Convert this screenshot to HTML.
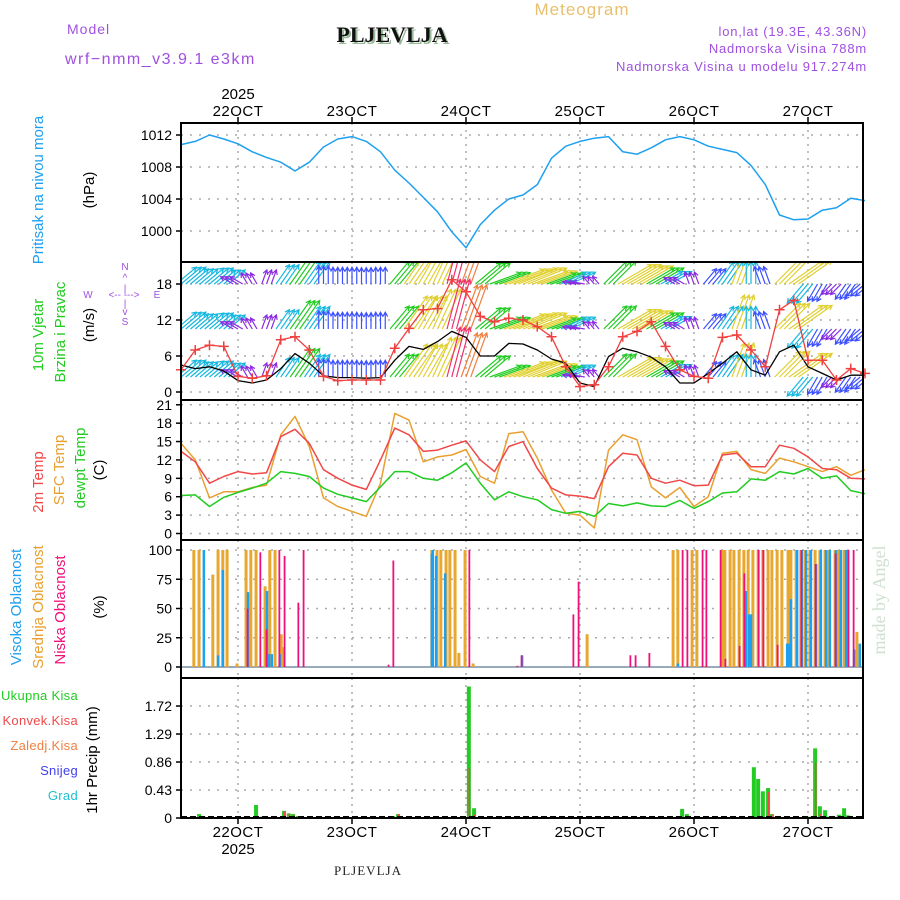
<!DOCTYPE html>
<html><head><meta charset="utf-8"><title>Meteogram PLJEVLJA</title>
<style>
html,body{margin:0;padding:0;background:#fff;}
svg{display:block;font-family:"Liberation Sans",sans-serif;}
</style></head>
<body>
<svg id="chart" width="900" height="900" viewBox="0 0 900 900" xmlns="http://www.w3.org/2000/svg">
<defs><clipPath id="windclip"><rect x="181" y="262" width="682" height="138"/></clipPath></defs>
<rect width="900" height="900" fill="#fff"/>
<text x="582" y="15" font-size="17" fill="#e8c070" text-anchor="middle" letter-spacing="1">Meteogram</text>
<text x="67" y="34" font-size="14" fill="#a050e0" letter-spacing="1">Model</text>
<text x="65" y="64" font-size="16" fill="#a050e0" letter-spacing="1.5">wrf−nmm_v3.9.1  e3km</text>
<text x="394" y="44" font-size="22" font-weight="bold" font-family="Liberation Serif,serif" fill="#9ab89a" text-anchor="middle">PLJEVLJA</text>
<text x="392" y="42" font-size="22" font-weight="bold" font-family="Liberation Serif,serif" fill="#111" text-anchor="middle">PLJEVLJA</text>
<text x="867" y="36" font-size="13" fill="#a050e0" text-anchor="end" letter-spacing="0.8">lon,lat (19.3E, 43.36N)</text>
<text x="867" y="53" font-size="13" fill="#a050e0" text-anchor="end" letter-spacing="0.8">Nadmorska Visina 788m</text>
<text x="867" y="71" font-size="13" fill="#a050e0" text-anchor="end" letter-spacing="0.8">Nadmorska Visina u modelu 917.274m</text>
<text transform="rotate(-90 885 600)" x="885" y="600" font-size="18" font-family="Liberation Serif,serif" fill="#d0e0d0" text-anchor="middle">made by Angel</text>
<text x="368" y="875" font-size="13" font-family="Liberation Serif,serif" fill="#222" text-anchor="middle" letter-spacing="1">PLJEVLJA</text>
<g id="grid"></g>
<g id="arrows" clip-path="url(#windclip)"></g>
<g id="marks"></g>
<g id="frames"></g>
<g id="labels"></g>
</svg>
<script>
// ---------- data ----------
const hours3 = [0,3,6,9,12,15,18,21,24,27,30,33,36,39,42,45,48,51,54,57,60,63,66,69,72,75,78,81,84,87,90,93,96,99,102,105,108,111,114,117,120,123,126,129,132,135,138,141,144];
const dayLabels = ["22OCT","23OCT","24OCT","25OCT","26OCT","27OCT"];
const dayHours = [12,36,60,84,108,132];
const pressure = [1010.8,1011.2,1012,1011.5,1010.9,1009.9,1009.2,1008.6,1007.5,1008.6,1010.5,1011.5,1011.8,1011.2,1009.9,1007.6,1006,1004.2,1002.4,999.9,997.9,1000.8,1002.6,1004,1004.5,1005.8,1009.1,1010.6,1011.2,1011.6,1011.8,1009.9,1009.6,1010.4,1011.4,1011.8,1011.4,1010.6,1010.2,1009.8,1008.2,1005.8,1002,1001.4,1001.5,1002.6,1002.9,1004.1,1003.8];
const presTicks = [1000,1004,1008,1012];
const windSpeed = [4.5,3.9,4.2,3.5,1.9,1.5,2,3.9,6.4,4.8,2.7,2.4,2.4,2.3,2.4,5.3,7.6,7.1,8.4,10.1,9.1,6,6,8.1,8,7,5.5,4.8,1.5,0.9,5.9,7.3,6.7,5.8,4.2,1.5,1.5,3.1,4.8,6.7,3.7,2.8,6.7,7.8,4.2,3.1,2,2.8,2.8];
const windGust = [3.7,7,7.8,7.6,2.6,2.3,2.7,8.7,9.2,7,2.6,1.9,2,2,2,7.3,10.6,13.7,13.9,18.7,16.7,12.6,11.7,12.3,12,10.9,9.2,4.2,0.9,1.2,4.2,9.2,10.1,11.7,7.6,3.7,2.6,2.3,9.1,9.5,7,4.2,13.7,15.3,5.3,5.3,2,3.9,3.1];
const windDir = [230,230,230,230,120,150,200,215,215,215,180,180,180,180,180,220,215,210,205,195,200,230,250,250,248,250,250,245,100,140,225,240,240,240,240,120,160,220,215,200,180,160,225,235,40,30,45,35,50];
const windTicks = [0,6,12,18];
const windRowLevels = [18,10.5,2.5];
const temp2m = [13.4,11.7,8.2,9.3,10.1,9.7,9.9,15.8,17,14.7,10.4,9,7.9,7.2,12,17.2,16.1,13.4,13.6,14.4,15.1,12,10.1,14.2,15,10.6,7.4,6.3,6.1,5.7,10.9,13.1,12.8,9,8.2,8.7,7.8,7.9,12.8,13.1,10.9,10.9,14.4,13.9,12.5,10.6,10.4,9,8.9];
const tempSfc = [14.7,12,5.8,6.8,6.8,7.5,7.9,16.1,19.1,14.2,5.8,4.4,3.6,2.8,8.2,19.6,18.5,11.7,12.5,12.8,13.7,9.3,8.2,16.3,16.6,12.3,7.1,3.3,3.0,0.9,13.6,16.1,15.3,7.6,5.8,7.5,4.4,6,13.1,13.4,10.4,9.8,12.3,11.7,10.9,10.1,10.9,9.5,10.4];
const tempDew = [6.2,6.3,4.4,5.9,6.7,7.4,8.2,10.1,9.8,9.3,7.4,6.4,5.8,5.2,7.6,10.1,10.1,9,8.7,9.9,11.5,8.2,5.5,6.8,6,5.5,3.9,3.3,3.6,2.8,4.9,4.5,5,4.5,4.4,5.4,4.1,5.2,6.6,6.8,8.9,8.7,10.1,9.7,10.6,9,9.4,7,6.5];
const tempTicks = [0,3,6,9,12,15,18,21];
const cloudMid = [[2.7,100],[3.8,100],[6.7,79],[7.8,100],[8.8,100],[9.7,100],[11.8,3],[13.7,100],[14.7,100],[15.8,100],[17.7,69],[18.7,100],[19.8,100],[21.1,28],[21.5,17],[52.8,100],[53.9,100],[54.7,100],[55.8,100],[56.6,100],[57.7,100],[58.5,12],[59.8,100],[61.5,3],[85.5,28],[103.6,100],[104.6,100],[107.6,100],[108.6,100],[110.5,1],[113.9,100],[114.5,100],[115.6,100],[116.4,100],[117.5,100],[118.5,100],[119.4,100],[120.4,100],[121.5,100],[122.5,100],[123.6,100],[124.4,100],[125.5,100],[126.5,100],[127.8,100],[128.4,100],[129.5,100],[130.5,100],[131.4,100],[132.4,100],[133.5,100],[134.5,100],[135.6,100],[136.4,100],[137.7,100],[138.5,100],[139.6,100],[140.4,100],[142.3,30]];
const cloudHigh = [[4.6,100],[7.6,10],[8.6,83],[13.9,64],[17.9,65],[18.3,11],[18.9,11],[20.6,11],[52.6,97],[52.8,100],[53.5,95],[55.4,80],[71.6,10],[104.4,3],[118.7,65],[119.4,45],[119.8,45],[127.4,20],[127.8,20],[128.2,58],[129.5,100],[130.5,100],[131.4,100],[132.4,100],[133.5,88],[134.5,100],[135.6,100],[136.4,100],[137.7,100],[138.7,100],[139.8,100],[141.5,15],[142.7,20]];
const cloudLow = [[13.9,50],[16.6,98],[17.9,32],[20.6,100],[21.7,95],[24.6,55],[25.7,100],[43.6,2],[44.6,91],[60.6,100],[70.7,1],[71.6,10],[82.5,45],[83.6,73],[94.5,10],[95.6,10],[98.5,12],[105.5,100],[106.5,100],[109.7,100],[110.5,100],[113.5,100],[114.5,7],[117.5,18],[118.5,80],[121.5,100],[122.5,100],[125.5,19],[130.5,100],[133.5,88],[137.7,97],[140.4,100],[141.5,100]];
const cloudTicks = [0,25,50,75,100];
const precipTotal = [[3.8,0.06],[4.8,0.02],[15.8,0.2],[16.6,0.02],[19.8,0.02],[21.7,0.11],[22.7,0.07],[23.6,0.06],[24.6,0.03],[44.6,0.03],[45.7,0.06],[60.6,2.02],[61.7,0.15],[104.6,0.03],[105.5,0.14],[106.5,0.06],[120.6,0.78],[121.5,0.6],[122.5,0.41],[123.6,0.46],[124.4,0.06],[132.4,0.02],[133.5,1.07],[134.5,0.18],[135.6,0.12],[136.4,0.02],[137.5,0.02],[138.5,0.05],[139.6,0.15],[140.4,0.04]];
const precipConv = [[21.7,0.1],[22.7,0.07],[23.6,0.05],[24.6,0.02],[44.6,0.02],[45.7,0.06],[60.6,0.77],[61.7,0.05],[123.6,0.4],[124.4,0.05],[133.5,0.85],[134.5,0.06]];
const precipTicks = [0,0.43,0.86,1.29,1.72];

// ---------- scales ----------
const X0 = 181, X1 = 863, PXH = 4.75;
const xOf = h => X0 + h * PXH;
const yPres = v => 135 + (1012 - v) * 8;
const yWind = v => 392 - v * 6;
const yTemp = v => 533.5 - v * 6.13;
const yCloud = v => 667 - v * 1.17;
const yPrec = v => 818 - v * 65.1;
const panels = [[123,262],[262,400],[400,540],[540,678],[678,818]];

const NS = "http://www.w3.org/2000/svg";
const gGrid = document.getElementById('grid');
const gArrows = document.getElementById('arrows');
const gMarks = document.getElementById('marks');
const gFrames = document.getElementById('frames');
const gLabels = document.getElementById('labels');
function mk(tag, attrs, parent) {
  const e = document.createElementNS(NS, tag);
  for (const k in attrs) e.setAttribute(k, attrs[k]);
  parent.appendChild(e);
  return e;
}

// ---------- grid ----------
panels.forEach((p, pi) => {
  dayHours.forEach(h => {
    const l = mk('line', {x1: xOf(h), x2: xOf(h), y1: p[0], y2: p[1], stroke: '#aaa', 'stroke-width': 1.5, 'stroke-dasharray': '2,5'}, gGrid);
    
    
  });
});
function hgrid(ticks, yf, fmt, name) {
  ticks.forEach(t => {
    const y = yf(t);
    const l = mk('line', {x1: X0, x2: X1, y1: y, y2: y, stroke: '#aaa', 'stroke-width': 1.5, 'stroke-dasharray': '2,7'}, gGrid);
    
    
    mk('line', {x1: X0 - 5, x2: X0, y1: y, y2: y, stroke: '#000', 'stroke-width': 1.5}, gFrames);
    const tx = mk('text', {x: 172, y: y + 5, 'font-size': 14, 'text-anchor': 'end', fill: '#000'}, gLabels);
    tx.textContent = fmt(t);
    
    
  });
}
hgrid(presTicks, yPres, t => t, 'pressure');
hgrid(windTicks, yWind, t => t, 'wind');
hgrid(tempTicks, yTemp, t => t, 'temp');
hgrid(cloudTicks, yCloud, t => t, 'cloud');
hgrid(precipTicks, yPrec, t => t === 0 ? '0' : t.toFixed(2), 'precip');

// ---------- lines ----------
function line(vals, yf, color, name, w) {
  const d = vals.map((v, i) => (i ? 'L' : 'M') + xOf(hours3[i]).toFixed(1) + ',' + yf(v).toFixed(1)).join(' ');
  const p = mk('path', {d: d, fill: 'none', stroke: color, 'stroke-width': w || 1.5, 'stroke-linejoin': 'round'}, gMarks);
  
  
}
line(pressure, yPres, '#1ea0f0', 'pressure-line');

// wind arrows (each 3-hourly record drawn as a small fan of hourly-spaced glyphs)
function windColor(s) {
  if (s < 2.1) return '#8a2be2';
  if (s < 3.5) return '#3c50ff';
  if (s < 5) return '#18b8e0';
  if (s < 6.5) return '#22cc22';
  if (s < 9) return '#e0d030';
  if (s < 10) return '#f08040';
  return '#f0306a';
}
const fanOffsets = [-1, 0, 1];
windRowLevels.forEach(lev => {
  const by = yWind(lev);
  windSpeed.forEach((s, i) => {
    const to = (windDir[i] + 180) * Math.PI / 180;
    const L = s * 4.5 + 6;
    const c = windColor(s);
    fanOffsets.forEach(o => {
      const x = xOf(hours3[i]) + o * PXH;
      const ex = x + L * Math.sin(to), ey = by - L * Math.cos(to);
      const a = Math.atan2(ey - by, ex - x);
      const h1x = ex - 5 * Math.cos(a - 0.5), h1y = ey - 5 * Math.sin(a - 0.5);
      const h2x = ex - 5 * Math.cos(a + 0.5), h2y = ey - 5 * Math.sin(a + 0.5);
      const g = mk('path', {d: `M${x},${by} L${ex},${ey} M${h1x},${h1y} L${ex},${ey} L${h2x},${h2y}`, stroke: c, 'stroke-width': 1.2, fill: 'none'}, gArrows);
      
      
    });
  });
});
line(windSpeed, yWind, '#000', 'wind-speed-line', 1.3);
line(windGust, yWind, '#f04040', 'wind-gust-line', 1.3);
windGust.forEach((v, i) => {
  const x = xOf(hours3[i]), y = yWind(v);
  const c = mk('path', {d: `M${x-5},${y} L${x+5},${y} M${x},${y-5} L${x},${y+5}`, stroke: '#f04040', 'stroke-width': 1.5}, gMarks);
  
  
});

// temperatures
line(tempSfc, yTemp, '#e8a030', 'sfc-temp-line');
line(temp2m, yTemp, '#f04848', 'temp-2m-line');
line(tempDew, yTemp, '#20cc20', 'dewpoint-line');

// clouds
mk('line', {x1: X0, x2: X1, y1: yCloud(0), y2: yCloud(0), stroke: '#9ab', 'stroke-width': 2}, gMarks);
function bars(data, yf, color, w, off, name) {
  data.forEach(d => {
    const x = xOf(d[0]) + off, y = yf(d[1]), y0 = yf(0);
    const r = mk('rect', {x: x - w / 2, y: y, width: w, height: Math.max(0, y0 - y), fill: color}, gMarks);
    
    
  });
}
bars(cloudMid, yCloud, '#e8a830', 3, 0, 'mid-cloud-bar');
bars(cloudHigh, yCloud, '#1ea0f0', 2.5, 1, 'high-cloud-bar');
bars(cloudLow, yCloud, '#f0107a', 1.8, 0.5, 'low-cloud-bar');

// precip
bars(precipTotal, yPrec, '#22cc22', 4, 0, 'total-precip-bar');
bars(precipConv, yPrec, '#f04848', 1.5, 0.5, 'convective-precip-bar');
mk('line', {x1: X0, x2: X1, y1: 817, y2: 817, stroke: '#000', 'stroke-width': 2, 'stroke-dasharray': '6,3'}, gMarks);

// ---------- frames ----------
panels.forEach((p, i) => {
  const r = mk('rect', {x: X0, y: p[0], width: X1 - X0, height: p[1] - p[0], fill: 'none', stroke: '#000', 'stroke-width': 2}, gFrames);
  
  
});
dayHours.forEach((h, i) => {
  const x = xOf(h);
  mk('line', {x1: x, x2: x, y1: 117, y2: 123, stroke: '#000', 'stroke-width': 1.5}, gFrames);
  mk('line', {x1: x, x2: x, y1: 818, y2: 824, stroke: '#000', 'stroke-width': 1.5}, gFrames);
  const t1 = mk('text', {x: x, y: 116, 'font-size': 15, 'text-anchor': 'middle', fill: '#000', 'letter-spacing': '0.5'}, gLabels);
  t1.textContent = dayLabels[i];
  
  
  const t2 = mk('text', {x: x, y: 837, 'font-size': 15, 'text-anchor': 'middle', fill: '#000', 'letter-spacing': '0.5'}, gLabels);
  t2.textContent = dayLabels[i];
  
  
});
const y1 = mk('text', {x: xOf(dayHours[0]), y: 99, 'font-size': 15, 'text-anchor': 'middle', fill: '#000'}, gLabels);
y1.textContent = '2025';


const y2 = mk('text', {x: xOf(dayHours[0]), y: 854, 'font-size': 15, 'text-anchor': 'middle', fill: '#000'}, gLabels);
y2.textContent = '2025';



// ---------- axis titles ----------
function vtext(txt, x, y, color, name, size) {
  const t = mk('text', {x: x, y: y, transform: `rotate(-90 ${x} ${y})`, 'font-size': size || 15, 'text-anchor': 'middle', fill: color}, gLabels);
  t.textContent = txt;
  
  
}
vtext('Pritisak na nivou mora', 43, 190, '#1ea0f0', 'pressure-title');
vtext('(hPa)', 94, 190, '#000', 'pressure-unit');
vtext('10m Vjetar', 43, 335, '#22cc22', 'wind-title');
vtext('Brzina i Pravac', 65, 332, '#22cc22', 'wind-subtitle');
vtext('(m/s)', 94, 325, '#000', 'wind-unit');
vtext('2m Temp', 43, 482, '#f04848', 'temp-2m-title');
vtext('SFC Temp', 64, 470, '#e8a030', 'sfc-temp-title');
vtext('dewpt Temp', 85, 468, '#22cc22', 'dewpoint-title');
vtext('(C)', 104, 470, '#000', 'temp-unit');
vtext('Visoka Oblacnost', 21, 607, '#1ea0f0', 'high-cloud-title');
vtext('Srednja Oblacnost', 43, 607, '#e8a030', 'mid-cloud-title');
vtext('Niska Oblacnost', 65, 610, '#f0107a', 'low-cloud-title');
vtext('(%)', 104, 607, '#000', 'cloud-unit');
vtext('1hr Precip (mm)', 97, 760, '#000', 'precip-title');
const leg = [['Ukupna Kisa','#22cc22',700],['Konvek.Kisa','#f04848',725],['Zaledj.Kisa','#f08040',750],['Snijeg','#4040f0',775],['Grad','#20c0d0',800]];
leg.forEach(l => {
  const t = mk('text', {x: 78, y: l[2], 'font-size': 13, 'text-anchor': 'end', fill: l[1], 'letter-spacing': '0.3'}, gLabels);
  t.textContent = l[0];
  
  
});
// compass
const comp = [['N',125,270],['^',125,281],['|',125,292],['W',88,298],['<-- --->',124,298],['E',157,298],['|',125,307],['v',125,315],['S',125,325]];
comp.forEach(c => {
  const t = mk('text', {x: c[1], y: c[2], 'font-size': 10, 'text-anchor': 'middle', fill: '#a050e0'}, gLabels);
  t.textContent = c[0];
  
  
});
</script>
</body></html>
